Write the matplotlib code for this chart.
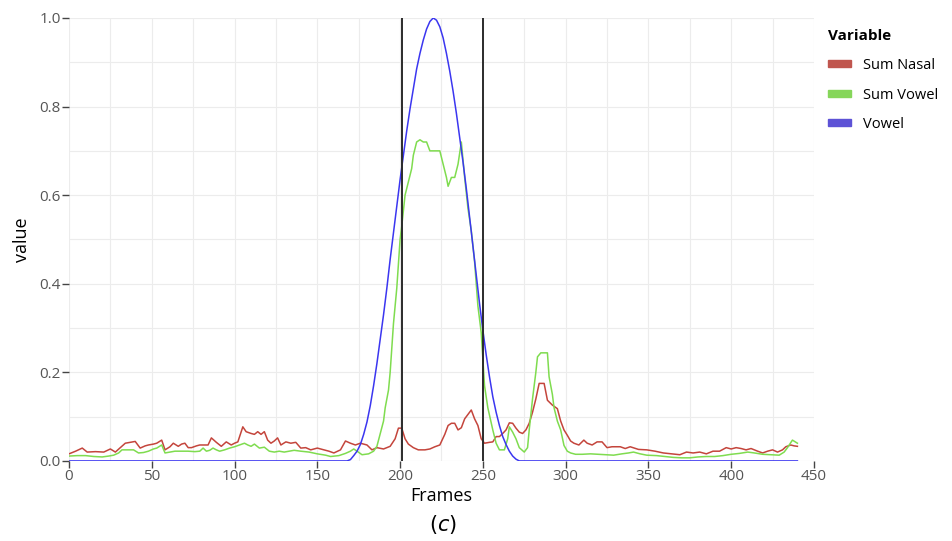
import matplotlib
matplotlib.use("Agg")
import matplotlib.pyplot as plt
from matplotlib.patches import Patch
from matplotlib.ticker import MultipleLocator

plt.rcParams['font.family'] = ['Open Sans', 'DejaVu Sans']
plt.rcParams['mathtext.fontset'] = 'dejavusans'

# Sum Nasal (red)
nasal_frames = [0, 4, 8, 11, 16, 21, 25, 28, 31, 34, 37, 40, 43, 46, 48, 51, 53, 56, 58, 61,
                63, 66, 68, 70, 72, 74, 77, 79, 82, 84, 86, 89, 92, 95, 98, 100, 102, 105, 107, 110,
                112, 114, 116, 118, 120, 122, 124, 126, 128, 131, 134, 137, 140, 143, 146, 150, 154, 157, 160, 164,
                167, 170, 173, 176, 180, 183, 186, 190, 194, 197, 199, 201, 203, 205, 208, 211, 215, 218, 221, 224,
                227, 229, 231, 233, 235, 237, 239, 241, 243, 245, 247, 249, 251, 254, 256, 258, 260, 262, 264, 266,
                268, 270, 272, 274, 276, 278, 280, 282, 284, 287, 289, 292, 295, 297, 299, 301, 303, 305, 308, 311,
                313, 316, 319, 322, 325, 328, 333, 336, 339, 344, 349, 354, 359, 364, 369, 373, 377, 381, 385, 389,
                393, 397, 400, 403, 406, 409, 412, 416, 419, 422, 425, 428, 431, 433, 436, 438, 440]
nasal_values = [0.016, 0.022, 0.029, 0.020, 0.021, 0.020, 0.027, 0.020, 0.030, 0.040, 0.042, 0.044, 0.029, 0.034, 0.036, 0.038, 0.040, 0.047, 0.025, 0.032,
                0.040, 0.033, 0.038, 0.040, 0.030, 0.030, 0.034, 0.036, 0.036, 0.036, 0.052, 0.042, 0.033, 0.043, 0.036, 0.040, 0.043, 0.077, 0.066, 0.062,
                0.060, 0.066, 0.060, 0.066, 0.047, 0.040, 0.045, 0.052, 0.036, 0.043, 0.040, 0.042, 0.029, 0.030, 0.025, 0.029, 0.025, 0.022, 0.018, 0.025,
                0.045, 0.040, 0.036, 0.040, 0.036, 0.025, 0.030, 0.027, 0.033, 0.050, 0.074, 0.074, 0.050, 0.038, 0.030, 0.025, 0.025, 0.027, 0.032, 0.036,
                0.060, 0.080, 0.085, 0.085, 0.070, 0.075, 0.095, 0.105, 0.115, 0.095, 0.080, 0.050, 0.040, 0.042, 0.043, 0.055, 0.055, 0.062, 0.070, 0.086,
                0.085, 0.074, 0.065, 0.062, 0.070, 0.085, 0.110, 0.140, 0.175, 0.175, 0.137, 0.126, 0.118, 0.090, 0.070, 0.058, 0.045, 0.040, 0.036, 0.047,
                0.040, 0.036, 0.043, 0.043, 0.030, 0.032, 0.032, 0.028, 0.032, 0.026, 0.025, 0.022, 0.018, 0.016, 0.014, 0.020, 0.018, 0.020, 0.016, 0.022,
                0.022, 0.030, 0.027, 0.030, 0.028, 0.025, 0.028, 0.022, 0.018, 0.022, 0.025, 0.020, 0.025, 0.032, 0.036, 0.034, 0.033]

# Sum Vowel (green)
svowel_frames = [0, 5, 10, 15, 20, 24, 27, 30, 32, 36, 39, 42, 45, 48, 51, 53, 56, 58, 61, 64,
                 68, 72, 76, 79, 81, 83, 85, 87, 89, 91, 94, 97, 100, 103, 106, 108, 110, 112, 115, 118,
                 121, 124, 127, 130, 133, 136, 140, 145, 150, 155, 158, 163, 167, 170, 172, 174, 177, 181, 184, 186,
                 188, 190, 191, 193, 194, 196, 198, 200, 201, 203, 205, 207, 208, 210, 212, 214, 216, 218, 220, 222,
                 224, 226, 228, 229, 231, 233, 235, 237, 239, 241, 243, 245, 247, 249, 250, 251, 253, 256, 258, 260,
                 263, 265, 266, 268, 270, 272, 275, 277, 278, 280, 282, 283, 285, 289, 290, 292, 293, 295, 297, 299,
                 301, 303, 306, 310, 315, 320, 325, 329, 334, 338, 341, 345, 349, 355, 360, 365, 370, 375, 380, 385,
                 390, 395, 400, 405, 410, 414, 419, 424, 429, 432, 434, 437, 440]
svowel_values = [0.011, 0.012, 0.012, 0.010, 0.009, 0.011, 0.013, 0.018, 0.025, 0.025, 0.025, 0.018, 0.019, 0.022, 0.027, 0.029, 0.036, 0.018, 0.020, 0.022,
                 0.022, 0.022, 0.021, 0.022, 0.029, 0.022, 0.024, 0.029, 0.025, 0.022, 0.025, 0.029, 0.032, 0.036, 0.040, 0.036, 0.033, 0.038, 0.029, 0.031,
                 0.022, 0.020, 0.022, 0.020, 0.022, 0.024, 0.022, 0.020, 0.016, 0.013, 0.010, 0.012, 0.017, 0.022, 0.027, 0.022, 0.014, 0.016, 0.022, 0.033,
                 0.062, 0.090, 0.120, 0.160, 0.200, 0.310, 0.390, 0.500, 0.530, 0.600, 0.630, 0.660, 0.690, 0.720, 0.725, 0.720, 0.720, 0.700, 0.700, 0.700,
                 0.700, 0.670, 0.640, 0.620, 0.640, 0.640, 0.670, 0.720, 0.640, 0.570, 0.520, 0.450, 0.350, 0.290, 0.230, 0.170, 0.120, 0.070, 0.040, 0.025,
                 0.025, 0.050, 0.077, 0.065, 0.050, 0.030, 0.020, 0.030, 0.070, 0.140, 0.200, 0.235, 0.244, 0.244, 0.190, 0.150, 0.120, 0.090, 0.070, 0.035,
                 0.022, 0.018, 0.015, 0.015, 0.016, 0.015, 0.014, 0.013, 0.016, 0.018, 0.020, 0.016, 0.013, 0.012, 0.010, 0.008, 0.007, 0.007, 0.009, 0.010,
                 0.010, 0.012, 0.015, 0.017, 0.020, 0.018, 0.015, 0.014, 0.013, 0.020, 0.030, 0.047, 0.040]

# Vowel (blue)
vowel_frames = [0, 168, 170, 172, 174, 176, 178, 180, 182, 184, 186, 188, 190, 192, 194, 196, 198,
                200, 202, 204, 206, 208, 210, 212, 214, 216, 218, 220, 222, 224, 226, 228, 230,
                232, 234, 236, 238, 240, 242, 244, 246, 248, 250, 252, 254, 256, 258, 260, 262,
                264, 266, 268, 270, 272, 440]
vowel_values = [0.0, 0.0, 0.003, 0.012, 0.022, 0.037, 0.06, 0.088, 0.125, 0.17, 0.22, 0.275, 0.33, 0.39, 0.455, 0.515, 0.575,
                0.635, 0.69, 0.745, 0.795, 0.84, 0.885, 0.92, 0.95, 0.975, 0.992, 1.0, 0.995, 0.98, 0.955, 0.92, 0.88,
                0.835, 0.785, 0.73, 0.675, 0.615, 0.55, 0.485, 0.42, 0.355, 0.295, 0.24, 0.19, 0.145, 0.11, 0.08, 0.055,
                0.037, 0.022, 0.011, 0.004, 0.0, 0.0]

boundaries = [201, 250]

fig = plt.figure(figsize=(9.53, 5.41), dpi=100)
ax = fig.add_axes([0.0724, 0.148, 0.7817, 0.8188])

ax.plot(nasal_frames, nasal_values, color='#c4453c', lw=1.1)
ax.plot(svowel_frames, svowel_values, color='#7fdc4f', lw=1.1)
ax.plot(vowel_frames, vowel_values, color='#3b36f0', lw=1.1)
for b in boundaries:
    ax.axvline(b, color='#2b2b2b', lw=1.4)

ax.set_xlim(0, 450)
ax.set_ylim(0, 1.0)
ax.xaxis.set_major_locator(MultipleLocator(50))
ax.xaxis.set_minor_locator(MultipleLocator(25))
ax.yaxis.set_major_locator(MultipleLocator(0.2))
ax.yaxis.set_minor_locator(MultipleLocator(0.1))
ax.yaxis.set_major_formatter(matplotlib.ticker.FormatStrFormatter('%.1f'))
ax.grid(True, which='both', color='#ececec', lw=0.8)
ax.set_axisbelow(True)
for s in ax.spines.values():
    s.set_visible(False)
ax.tick_params(which='major', length=5, width=1, color='#444444', labelcolor='#555555',
               labelsize=11, pad=1)
ax.tick_params(which='minor', length=0)

ax.set_xlabel('Frames', fontsize=13, labelpad=2)
ax.set_ylabel('value', fontsize=13, labelpad=6)
fig.text(0.465, 0.018, r'$(c)$', fontsize=15, ha='center')

handles = [Patch(color='#c0564e', label='Sum Nasal'),
           Patch(color='#86d65a', label='Sum Vowel'),
           Patch(color='#5d52d6', label='Vowel')]
leg = fig.legend(handles=handles, title='Variable', loc='upper left',
                 bbox_to_anchor=(0.855, 0.97), frameon=False, fontsize=10.5,
                 title_fontsize=11, handlelength=1.6, handleheight=0.35,
                 handletextpad=0.8, labelspacing=1.0, alignment='left')
leg.get_title().set_fontweight('bold')

fig.savefig('out.png', dpi=100)
